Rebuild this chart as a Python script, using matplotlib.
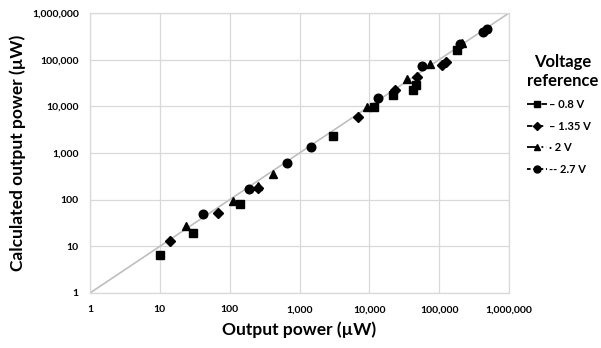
import matplotlib
matplotlib.use("Agg")
import matplotlib.pyplot as plt
from matplotlib.lines import Line2D
from matplotlib.ticker import FixedLocator, NullLocator

plt.rcParams['font.family'] = ['Lato', 'DejaVu Sans']

# ---- data ----
sq_x = [10, 30, 140, 3000, 11500, 21700, 42000, 46800, 179000]
sq_y = [6.5, 19, 80, 2300, 9800, 17500, 22000, 28600, 161000]

dia_x = [14, 68, 258, 6800, 23400, 47900, 109000, 126000]
dia_y = [13, 52, 175, 5800, 22400, 42500, 75700, 87700]

tri_x = [24, 110, 258, 420, 9200, 34400, 74300, 211000]
tri_y = [27, 95, 196, 360, 9500, 38500, 79400, 224000]

circ_x = [42, 190, 660, 1470, 13100, 57600, 200000, 430000, 480000]
circ_y = [50, 170, 600, 1330, 15300, 73100, 215000, 400000, 450000]

ref_line = [1, 1000000]
tick_vals = [1, 10, 100, 1000, 10000, 100000, 1000000]
tick_labels = ['1', '10', '100', '1,000', '10,000', '100,000', '1,000,000']
series_labels = ['\u2013 0.8 V', '\u2013 1.35 V', '\u00b7 2 V', '-- 2.7 V']

fig = plt.figure(figsize=(6.01, 3.48), dpi=100)
ax = fig.add_axes([90/601, 1-293/348, (509-90)/601, (293-13)/348])

ax.set_xscale('log')
ax.set_yscale('log')
ax.set_xlim(1, 1e6)
ax.set_ylim(1, 1e6)

ax.plot(ref_line, ref_line, color='#bfbfbf', lw=1.2, zorder=2)

ax.plot(sq_x, sq_y, 's', color='black', ms=5.2, ls='none', zorder=3)
ax.plot(dia_x, dia_y, 'D', color='black', ms=4.6, ls='none', zorder=3)
ax.plot(tri_x, tri_y, '^', color='black', ms=6.2, ls='none', zorder=3)
ax.plot(circ_x, circ_y, 'o', color='black', ms=6.2, ls='none', zorder=3)

ax.xaxis.set_major_locator(FixedLocator(tick_vals))
ax.yaxis.set_major_locator(FixedLocator(tick_vals))
ax.xaxis.set_minor_locator(NullLocator())
ax.yaxis.set_minor_locator(NullLocator())
ax.set_xticklabels(tick_labels, fontsize=7.5, fontweight='bold')
ax.set_yticklabels(tick_labels, fontsize=7.5, fontweight='bold')
ax.tick_params(length=0, pad=9)
ax.tick_params(axis='y', pad=8)

ax.grid(True, color='#d9d9d9', lw=0.9)
ax.set_axisbelow(True)
for s in ax.spines.values():
    s.set_color('#d9d9d9')
    s.set_linewidth(0.9)

ax.set_xlabel('Output power (\u00b5W)', fontsize=12.5, fontweight='bold', labelpad=5)
ax.set_ylabel('Calculated output power (\u00b5W)', fontsize=12.5, fontweight='bold', labelpad=4)

handles = [
    Line2D([0], [0], color='black', marker='s', ms=4.5, lw=1.3, ls=(0, (6, 2))),
    Line2D([0], [0], color='black', marker='D', ms=3.8, lw=1.3, ls=(0, (3, 3))),
    Line2D([0], [0], color='black', marker='^', ms=5, lw=1.3, ls=(0, (6, 2, 1, 2))),
    Line2D([0], [0], color='black', marker='o', ms=5, lw=1.3, ls=(0, (2, 1.5))),
]
leg = fig.legend(handles, series_labels, loc='upper left',
                 bbox_to_anchor=(517/601, 1-44/348), frameon=False,
                 title='Voltage\nreference', prop={'size': 8, 'weight': 'bold'},
                 handlelength=1.8, handletextpad=0.2, labelspacing=0.95)
leg.get_title().set_fontsize(12)
leg.get_title().set_fontweight('bold')
leg.get_title().set_multialignment('center')
leg._legend_box.align = 'left'

fig.savefig('out.png', dpi=100)
